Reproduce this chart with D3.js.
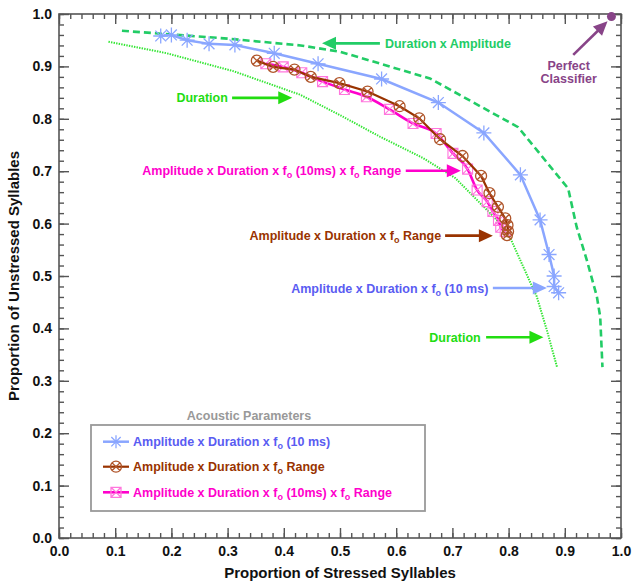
<!DOCTYPE html>
<html><head><meta charset="utf-8">
<script src="https://cdn.jsdelivr.net/npm/d3@7"></script>
<style>
body{margin:0;background:#fff}
svg{display:block}
text{font-family:"Liberation Sans",Arial,Helvetica,sans-serif;font-weight:bold}
</style>
</head><body>
<svg id="chart" width="635" height="584"></svg>
<script>
// ROC-style curves: proportion of stressed (x) vs unstressed (y) syllables
const ampDurF0X = [0.181,0.200,0.228,0.267,0.313,0.383,0.461,0.574,0.675,0.756,0.821,0.856,0.872,0.881,0.881,0.889];
const ampDurF0Y = [0.958,0.960,0.950,0.943,0.941,0.925,0.905,0.876,0.831,0.773,0.693,0.607,0.541,0.500,0.480,0.468];

const ampDurRangeX = [0.352,0.381,0.419,0.448,0.499,0.549,0.606,0.641,0.678,0.718,0.751,0.766,0.781,0.794,0.798,0.799,0.797];
const ampDurRangeY = [0.911,0.899,0.894,0.880,0.868,0.852,0.824,0.801,0.761,0.729,0.691,0.658,0.632,0.610,0.597,0.585,0.578];

const ampDurF0RangeX = [0.368,0.399,0.432,0.469,0.508,0.547,0.588,0.630,0.671,0.701,0.727,0.744,0.762,0.772,0.782,0.786,0.794];
const ampDurF0RangeY = [0.905,0.899,0.888,0.871,0.856,0.842,0.818,0.791,0.772,0.734,0.704,0.664,0.642,0.623,0.606,0.593,0.585];

const durAmpX = [0.112,0.200,0.300,0.430,0.500,0.660,0.817,0.906,0.921,0.939,0.957,0.963,0.967];
const durAmpY = [0.968,0.961,0.953,0.940,0.928,0.877,0.784,0.667,0.594,0.531,0.461,0.422,0.326];

const durX = [0.088,0.192,0.310,0.429,0.500,0.571,0.648,0.705,0.779,0.802,0.838,0.850,0.868,0.886];
const durY = [0.947,0.925,0.891,0.846,0.807,0.766,0.725,0.687,0.607,0.575,0.489,0.461,0.397,0.327];

const perfectPoint = [0.983, 0.995];

const majorTicks = [0,0.1,0.2,0.3,0.4,0.5,0.6,0.7,0.8,0.9,1.0];
const tickLabels = ["0.0","0.1","0.2","0.3","0.4","0.5","0.6","0.7","0.8","0.9","1.0"];

const legendLabels = [
  ["Amplitude x Duration x f", "o", " (10 ms)"],
  ["Amplitude x Duration x f", "o", " Range"],
  ["Amplitude x Duration x f", "o", " (10ms) x f", "o", " Range"]
];

const C = {
  blue: "#8aa6ff", blueText: "#5a5cf2",
  brown: "#993300", brownMark: "#b0552a",
  pink: "#ff00cc", pinkMark: "#ff77dd",
  dash: "#22cc66", dot: "#33e633", durText: "#22dd11",
  purple: "#884488", axis: "#555", legend: "#999"
};

const svg = d3.select("#chart");
const x = d3.scaleLinear().domain([0,1]).range([59,621]);
const y = d3.scaleLinear().domain([0,1]).range([538,14]);

// axes: ticks point inward on all four sides
function axes(){
  const minor = d3.range(0,1.0001,0.02);
  const fmt = (d,i)=>tickLabels[majorTicks.indexOf(d)] ?? "";
  const styleAx = g => { g.select(".domain").remove(); g.selectAll("line").attr("stroke",C.axis).attr("stroke-width",1.4); };
  // minor
  svg.append("g").attr("transform",`translate(0,${y(0)})`).call(d3.axisBottom(x).tickValues(minor).tickSize(-5).tickFormat("")).call(styleAx);
  svg.append("g").attr("transform",`translate(0,${y(1)})`).call(d3.axisTop(x).tickValues(minor).tickSize(-5).tickFormat("")).call(styleAx);
  svg.append("g").attr("transform",`translate(${x(0)},0)`).call(d3.axisLeft(y).tickValues(minor).tickSize(-5).tickFormat("")).call(styleAx);
  svg.append("g").attr("transform",`translate(${x(1)},0)`).call(d3.axisRight(y).tickValues(minor).tickSize(-5).tickFormat("")).call(styleAx);
  // major
  const bx = svg.append("g").attr("transform",`translate(0,${y(0)})`).call(d3.axisBottom(x).tickValues(majorTicks).tickSize(-10).tickPadding(8).tickFormat(fmt)).call(styleAx);
  svg.append("g").attr("transform",`translate(0,${y(1)})`).call(d3.axisTop(x).tickValues(majorTicks).tickSize(-10).tickFormat("")).call(styleAx);
  const ly = svg.append("g").attr("transform",`translate(${x(0)},0)`).call(d3.axisLeft(y).tickValues(majorTicks).tickSize(-10).tickPadding(7).tickFormat(fmt)).call(styleAx);
  svg.append("g").attr("transform",`translate(${x(1)},0)`).call(d3.axisRight(y).tickValues(majorTicks).tickSize(-10).tickFormat("")).call(styleAx);
  [bx,ly].forEach(g=>g.selectAll("text").attr("font-size",14).attr("fill","#111")
     .attr("font-family",'"Liberation Sans",Arial,sans-serif').attr("font-weight","bold"));
  svg.append("rect").attr("x",x(0)).attr("y",y(1)).attr("width",x(1)-x(0)).attr("height",y(0)-y(1))
     .attr("fill","none").attr("stroke",C.axis).attr("stroke-width",1.6);
  svg.append("text").attr("x",(x(0)+x(1))/2).attr("y",578).attr("text-anchor","middle")
     .attr("font-size",15).attr("fill","#111").text("Proportion of Stressed Syllables");
  svg.append("text").attr("transform",`translate(19,${(y(0)+y(1))/2}) rotate(-90)`).attr("text-anchor","middle")
     .attr("font-size",15).attr("fill","#111").text("Proportion of Unstressed Syllables");
}
axes();

const line = d3.line().x(d=>x(d[0])).y(d=>y(d[1]));
const zip = (a,b)=>a.map((v,i)=>[v,b[i]]);

// marker shapes
function star(s){ const r=s/2, q=r*0.72; return `M${-r},0L${r},0M0,${-r}L0,${r}M${-q},${-q}L${q},${q}M${-q},${q}L${q},${-q}`; }
function circX(r){ const q=r*0.7; return `M${r},0A${r},${r} 0 1,1 ${-r},0A${r},${r} 0 1,1 ${r},0M${-q},${-q}L${q},${q}M${-q},${q}L${q},${-q}`; }
function sqX(s){ const h=s/2; return `M${-h},${-h}H${h}V${h}H${-h}ZM${-h},${-h}L${h},${h}M${-h},${h}L${h},${-h}`; }

// Duration (dotted) and Duration x Amplitude (dashed)
svg.append("path").datum(zip(durX,durY)).attr("d",line).attr("fill","none")
  .attr("stroke",C.dot).attr("stroke-width",2).attr("stroke-dasharray","1.4,1.2");
svg.append("path").datum(zip(durAmpX,durAmpY)).attr("d",line).attr("fill","none")
  .attr("stroke",C.dash).attr("stroke-width",2.6).attr("stroke-dasharray","7,4");

// Amplitude x Duration x fo (10 ms)
const blue = zip(ampDurF0X,ampDurF0Y);
svg.append("path").datum(blue).attr("d",line).attr("fill","none").attr("stroke",C.blue).attr("stroke-width",2.5);
svg.append("g").selectAll("path").data(blue).join("path").attr("transform",d=>`translate(${x(d[0])},${y(d[1])})`)
  .attr("d",star(15)).attr("fill","none").attr("stroke",C.blue).attr("stroke-width",1.3);

// Amplitude x Duration x fo (10ms) x fo Range
const pink = zip(ampDurF0RangeX,ampDurF0RangeY);
svg.append("path").datum(pink).attr("d",d3.line().x(d=>x(d[0])).y(d=>y(d[1])).curve(d3.curveMonotoneX)).attr("fill","none").attr("stroke",C.pink).attr("stroke-width",2.6);
svg.append("g").selectAll("path").data(pink).join("path").attr("transform",d=>`translate(${x(d[0])},${y(d[1])})`)
  .attr("d",sqX(10)).attr("fill","none").attr("stroke",C.pinkMark).attr("stroke-width",1.1);

// Amplitude x Duration x fo Range
const brown = zip(ampDurRangeX,ampDurRangeY);
svg.append("path").datum(brown).attr("d",line).attr("fill","none").attr("stroke",C.brown).attr("stroke-width",2.2);
svg.append("g").selectAll("path").data(brown).join("path").attr("transform",d=>`translate(${x(d[0])},${y(d[1])})`)
  .attr("d",circX(5.5)).attr("fill","none").attr("stroke",C.brownMark).attr("stroke-width",1.3);

// perfect classifier point
svg.append("circle").attr("cx",x(perfectPoint[0])).attr("cy",y(perfectPoint[1])).attr("r",4.5).attr("fill",C.purple);

// annotation helpers
function arrow(x1,y1,x2,y2,color){
  const X1=x(x1),Y1=y(y1),X2=x(x2),Y2=y(y2);
  const a=Math.atan2(Y2-Y1,X2-X1), L=14, W=6.5;
  const bx=X2-L*Math.cos(a), by=Y2-L*Math.sin(a);
  svg.append("line").attr("x1",X1).attr("y1",Y1).attr("x2",bx+2*Math.cos(a)).attr("y2",by+2*Math.sin(a))
    .attr("stroke",color).attr("stroke-width",2.6);
  svg.append("path").attr("d",`M${X2},${Y2}L${bx-W*Math.sin(a)},${by+W*Math.cos(a)}L${bx+W*Math.sin(a)},${by-W*Math.cos(a)}Z`).attr("fill",color);
}
function label(px,py,parts,color,anchor,size){
  const t=svg.append("text").attr("x",px).attr("y",py).attr("fill",color).attr("text-anchor",anchor).attr("font-size",size||12.5);
  parts.forEach((p,i)=>{
    if(i%2===1){ t.append("tspan").attr("font-size",(size||12.5)*0.72).attr("dy",3).text(p); }
    else { const s=t.append("tspan").text(p); if(i>0) s.attr("dy",-3); }
  });
  return t;
}
const cy = v => y(v)+4.5;

label(x(0.580),cy(0.944),["Duration x Amplitude"],C.dash,"start");
arrow(0.571,0.944,0.468,0.944,C.dash);

label(x(0.209),cy(0.840),["Duration"],C.durText,"start");
arrow(0.308,0.840,0.415,0.840,C.durText);

label(x(0.609),cy(0.701),legendLabels[2],C.pink,"end");
arrow(0.617,0.701,0.715,0.701,C.pink);

label(x(0.680),cy(0.577),legendLabels[1],C.brown,"end");
arrow(0.687,0.577,0.772,0.577,C.brown);

label(x(0.764),cy(0.477),legendLabels[0],C.blueText,"end");
arrow(0.772,0.477,0.868,0.477,C.blue);

label(x(0.659),cy(0.383),["Duration"],C.durText,"start");
arrow(0.760,0.383,0.862,0.383,C.durText);

label(x(0.907),cy(0.901),["Perfect"],C.purple,"middle");
label(x(0.907),cy(0.877),["Classifier"],C.purple,"middle");
arrow(0.915,0.922,0.976,0.986,C.purple);

// legend
const lg = svg.append("g");
lg.append("text").attr("x",249).attr("y",419.5).attr("text-anchor","middle").attr("font-size",12.5).attr("fill",C.legend).text("Acoustic Parameters");
lg.append("rect").attr("x",91).attr("y",425).attr("width",334).attr("height",86).attr("fill","#fff").attr("stroke",C.legend).attr("stroke-width",1.8);
const legendRows = [
  {c:C.blue, m:C.blue, tc:C.blueText, sym:star(13), w:2.5},
  {c:C.brown, m:C.brownMark, tc:C.brown, sym:circX(5.5), w:2.2},
  {c:C.pink, m:C.pinkMark, tc:C.pink, sym:sqX(10), w:2.6}
];
const rowY = [441.7,466.7,492.3];
legendRows.forEach((r,i)=>{
  lg.append("line").attr("x1",103).attr("x2",129).attr("y1",rowY[i]).attr("y2",rowY[i]).attr("stroke",r.c).attr("stroke-width",r.w);
  lg.append("path").attr("transform",`translate(116,${rowY[i]})`).attr("d",r.sym).attr("fill","none").attr("stroke",r.m).attr("stroke-width",1.3);
  label(133,rowY[i]+4.5,legendLabels[i],r.tc,"start");
});
</script>
</body></html>
